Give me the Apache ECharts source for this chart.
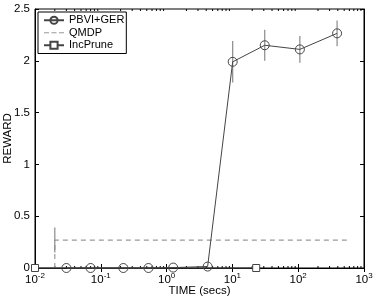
<!DOCTYPE html>
<html><head><meta charset="utf-8">
<script src="https://cdn.jsdelivr.net/npm/echarts@6/dist/echarts.min.js"></script>
<style>html,body{margin:0;padding:0;background:#fff}#c{width:375px;height:300px}</style>
</head><body><div id="c"></div>
<script>
// ---- data ----
var pbviTime = [0.03, 0.07, 0.22, 0.53, 1.26, 4.2, 10.1, 31, 106, 390];
var pbviReward = [0, 0, 0, 0, 0.004, 0.014, 1.99, 2.15, 2.11, 2.265];
var pbviErrLow = [null, null, null, null, null, null, 1.79, 2.0, 1.98, 2.14];
var pbviErrHigh = [null, null, null, null, null, null, 2.19, 2.30, 2.24, 2.39];
var qmdpTime = [0.02, 0.02, 550];
var qmdpReward = [0, 0.27, 0.27];
var qmdpErrTime = [0.02];
var qmdpErrLow = [0.15];
var qmdpErrHigh = [0.39];
var incTime = [0.01, 23];
var incReward = [0, 0];
var xTickExps = ['-2', '-1', '0', '1', '2', '3'];
var yTicks = ['0', '0.5', '1', '1.5', '2', '2.5'];

var FONT = 'Liberation Sans';
var chart = echarts.init(document.getElementById('c'));

function zip(a, b) { return a.map(function (v, i) { return [v, b[i]]; }); }
var pbviErr = [];
pbviTime.forEach(function (t, i) { if (pbviErrLow[i] != null) pbviErr.push([t, pbviErrLow[i], pbviErrHigh[i]]); });
var qmdpErr = qmdpErrTime.map(function (t, i) { return [t, qmdpErrLow[i], qmdpErrHigh[i]]; });

// minor tick positions (axis decoration)
var minor = [];
for (var e = -2; e < 3; e++) for (var m = 2; m <= 9; m++) minor.push([m * Math.pow(10, e)]);

function errRender(params, api) {
  var p1 = api.coord([api.value(0), api.value(1)]);
  var p2 = api.coord([api.value(0), api.value(2)]);
  return { type: 'line', shape: { x1: p1[0], y1: p1[1], x2: p2[0], y2: p2[1] },
    style: { stroke: '#8a8a8a', lineWidth: 1.2 } };
}
function minorRender(params, api) {
  var x = api.coord([api.value(0), 0])[0];
  var cs = params.coordSys;
  var yb = cs.y + cs.height, yt = cs.y;
  return { type: 'group', children: [
    { type: 'line', shape: { x1: x, y1: yb, x2: x, y2: yb - 2 }, style: { stroke: '#000', lineWidth: 1 } },
    { type: 'line', shape: { x1: x, y1: yt, x2: x, y2: yt + 2 }, style: { stroke: '#000', lineWidth: 1 } }
  ] };
}

var xLabelFmt = function (v) {
  var ex = Math.round(Math.log10(v));
  return '{b|10}{s|' + xTickExps[ex + 2] + '}';
};

chart.setOption({
  animation: false,
  textStyle: { fontFamily: FONT },
  grid: { left: 35, right: 11, top: 9, bottom: 32, outerBoundsMode: 'none', containLabel: false,
    show: true, borderColor: '#000', borderWidth: 1 },
  legend: {
    left: 38, top: 12, orient: 'vertical', itemGap: 0, itemWidth: 20, itemHeight: 9,
    backgroundColor: '#fff', borderColor: '#000', borderWidth: 1, padding: [2, 2, 2, 5],
    textStyle: { fontFamily: FONT, fontSize: 11, lineHeight: 12.5, color: '#000' },
    data: [
      { name: 'PBVI+GER' },
      { name: 'QMDP', icon: 'path://M0,4h5v1.2h-5z M7.5,4h5v1.2h-5z M15,4h5v1.2h-5z' },
      { name: 'IncPrune' }
    ]
  },
  xAxis: [{
    type: 'log', logBase: 10, min: 0.01, max: 1000,
    name: 'TIME (secs)', nameLocation: 'middle', nameGap: 17, nameMoveOverlap: false,
    nameTextStyle: { fontFamily: FONT, fontSize: 11.5, color: '#000', verticalAlign: 'top' },
    axisLine: { show: true, onZero: false, lineStyle: { color: '#000' } },
    axisTick: { show: true, inside: true, length: 4, lineStyle: { color: '#000' } },
    splitLine: { show: false },
    axisLabel: { formatter: xLabelFmt, margin: 4,
      rich: { b: { fontFamily: FONT, fontSize: 11.5, color: '#000' },
              s: { fontFamily: FONT, fontSize: 8, color: '#000', padding: [0, 0, 8, 0] } } }
  }, {
    type: 'log', logBase: 10, min: 0.01, max: 1000, position: 'top',
    axisLine: { show: true, lineStyle: { color: '#000' } },
    axisTick: { show: true, inside: true, length: 4, lineStyle: { color: '#000' } },
    axisLabel: { show: false }, splitLine: { show: false }
  }],
  yAxis: [{
    type: 'value', min: 0, max: 2.5, interval: 0.5,
    name: 'REWARD', nameLocation: 'middle', nameGap: 21, nameMoveOverlap: false, nameRotate: 90,
    nameTextStyle: { fontFamily: FONT, fontSize: 11.5, color: '#000' },
    axisLine: { show: true, lineStyle: { color: '#000' } },
    axisTick: { show: true, inside: true, length: 4, lineStyle: { color: '#000' } },
    splitLine: { show: false },
    axisLabel: { margin: 5, fontFamily: FONT, fontSize: 11.5, color: '#000',
      formatter: function (v) { return yTicks[Math.round(v / 0.5)]; } }
  }, {
    type: 'value', min: 0, max: 2.5, interval: 0.5, position: 'right',
    axisLine: { show: true, lineStyle: { color: '#000' } },
    axisTick: { show: true, inside: true, length: 4, lineStyle: { color: '#000' } },
    axisLabel: { show: false }, splitLine: { show: false }
  }],
  series: [
    { type: 'custom', renderItem: minorRender, data: minor, silent: true, clip: false, z: 1 },
    { name: 'QMDP', type: 'line', data: zip(qmdpTime, qmdpReward), symbol: 'none',
      color: '#999', lineStyle: { color: '#999', width: 1.2, type: [5, 4] }, z: 2 },
    { type: 'custom', renderItem: errRender, data: qmdpErr, silent: true, z: 3 },
    { type: 'custom', renderItem: errRender, data: pbviErr, silent: true, z: 3 },
    { name: 'IncPrune', type: 'line', data: zip(incTime, incReward), symbol: 'rect', symbolSize: 7,
      clip: false, color: '#444', lineStyle: { color: '#444', width: 1 },
      itemStyle: { color: '#fff', borderColor: '#444', borderWidth: 1 }, z: 4 },
    { name: 'PBVI+GER', type: 'line', data: zip(pbviTime, pbviReward), symbol: 'circle', symbolSize: 9,
      clip: false, color: '#444', lineStyle: { color: '#444', width: 1 },
      itemStyle: { color: 'rgba(0,0,0,0)', borderColor: '#444', borderWidth: 1 }, z: 5 }
  ]
});
</script>
</body></html>
